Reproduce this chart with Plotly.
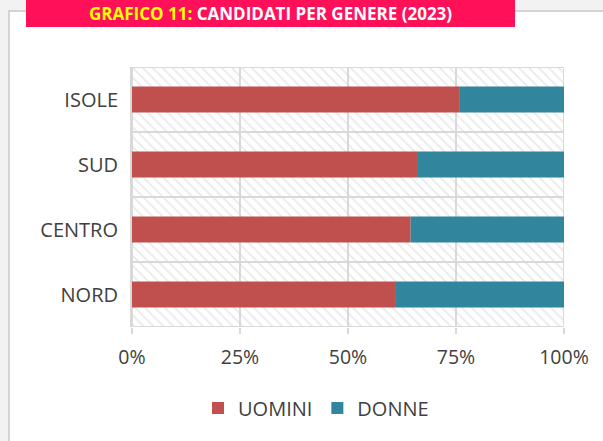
import plotly.graph_objects as go

categories = ["NORD", "CENTRO", "SUD", "ISOLE"]
uomini = [0.611, 0.645, 0.662, 0.759]
donne = [0.389, 0.355, 0.338, 0.241]
full_band = [1, 1, 1, 1]
tick_vals = [0, 0.25, 0.5, 0.75, 1.0]
tick_text = ["0%", "25%", "50%", "75%", "100%"]

W, H = 603, 441
L, R, T, B = 132, 564, 67, 327


def px(x):
    return (x - L) / (R - L)


def py(y):
    return (B - y) / (B - T)


fig = go.Figure()

# hatched background bands
fig.add_trace(go.Bar(
    y=categories, x=full_band, orientation="h", width=1,
    marker=dict(color="#d4d4d4",
                line=dict(color="#d9d9d9", width=2),
                pattern=dict(shape="\\", size=7, solidity=0.25,
                             fgcolor="#d4d4d4", bgcolor="rgba(0,0,0,0)")),
    showlegend=False, hoverinfo="skip"))

fig.add_trace(go.Bar(
    y=categories, x=uomini, orientation="h", width=0.4, name="UOMINI",
    marker=dict(color="#c0504d", line=dict(width=0))))
fig.add_trace(go.Bar(
    y=categories, x=donne, base=uomini, orientation="h", width=0.4, name="DONNE",
    marker=dict(color="#31859c", line=dict(width=0))))

font_family = "Open Sans"

fig.update_layout(
    width=W, height=H,
    margin=dict(l=L, r=W - R, t=T, b=H - B, pad=0),
    barmode="overlay",
    paper_bgcolor="#f2f2f2",
    plot_bgcolor="#ffffff",
    font=dict(family=font_family, size=20, color="#404040"),
    xaxis=dict(range=[0, 1], tickvals=tick_vals, ticktext=tick_text,
               showgrid=True, gridcolor="#d9d9d9", gridwidth=2,
               zeroline=False, showline=False,
               ticks="outside", ticklen=6, tickwidth=2, tickcolor="#d9d9d9",
               ticklabelstandoff=7,
               tickfont=dict(size=19.5, color="#404040")),
    yaxis=dict(categoryorder="array", categoryarray=categories,
               range=[-0.5, 3.5], showgrid=False, zeroline=False,
               showline=True, linecolor="#d9d9d9", linewidth=2,
               ticks="", ticklabelstandoff=8,
               tickfont=dict(size=20, color="#404040")),
    legend=dict(orientation="h", x=px(198), y=py(408),
                xanchor="left", yanchor="middle",
                font=dict(size=20, color="#404040"),
                bgcolor="rgba(0,0,0,0)", itemwidth=30, tracegroupgap=0),
    shapes=[
        dict(type="rect", xref="paper", yref="paper",
             x0=px(9), x1=px(640), y0=py(11), y1=py(470),
             fillcolor="#ffffff", line=dict(color="#c8c8c8", width=1.5),
             layer="below"),
        dict(type="rect", xref="paper", yref="paper",
             x0=px(26), x1=px(515), y0=py(0), y1=py(27),
             fillcolor="#ff1058", line=dict(width=0), layer="above"),
    ],
    annotations=[
        dict(xref="paper", yref="paper", x=px(270), y=py(13.5),
             xanchor="center", yanchor="middle", showarrow=False,
             text="<b><span style='color:#ffff00'>GRAFICO 11:</span> CANDIDATI PER GENERE (2023)</b>",
             font=dict(family=font_family, size=17, color="#ffffff")),
    ],
)

fig.write_html("out.html", config={"displayModeBar": False},
               post_script="document.body.style.margin='0';")
